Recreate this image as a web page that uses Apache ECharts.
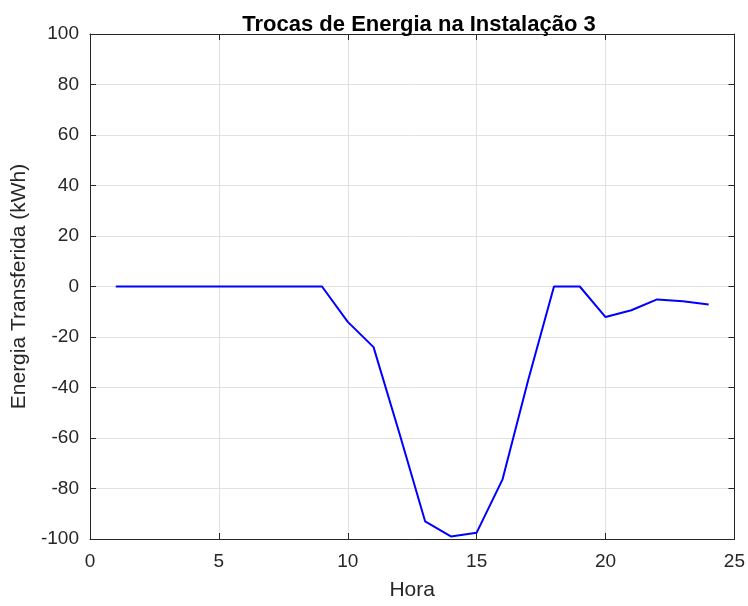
<!DOCTYPE html>
<html>
<head>
<meta charset="utf-8">
<script src="https://cdn.jsdelivr.net/npm/echarts@6/dist/echarts.min.js"></script>
<style>
  html, body { margin: 0; padding: 0; background: #fff; }
  #chart { width: 748px; height: 606px; }
</style>
</head>
<body>
<div id="chart"></div>
<script>
// hourly energy exchange
const hours = [1, 2, 3, 4, 5, 6, 7, 8, 9, 10, 11, 12, 13, 14, 15, 16, 17, 18, 19, 20, 21, 22, 23, 24];
const energy = [0, 0, 0, 0, 0, 0, 0, 0, 0, -14, -24, -58, -93, -99, -97.5, -76.5, -37, 0, 0, -12.1, -9.4, -5.1, -5.8, -7.1];

const font = 'Liberation Sans, Arial, sans-serif';
const txt = '#262626';
const axisCol = '#262626';
const gridCol = '#e1e1e1';

function getOption() {
    const seriesData = hours.map((h, i) => [h, energy[i]]);
    const sideAxis = {
        axisLine: {show: true, onZero: false, lineStyle: {color: axisCol}},
        axisTick: {show: true, inside: true, length: 6, lineStyle: {color: axisCol}},
        axisLabel: {show: false},
        splitLine: {show: false},
    };
    return {
        backgroundColor: '#fff',
        animation: false,
        title: {
            text: 'Trocas de Energia na Instalação 3',
            left: 414, top: 9, textAlign: 'center',
            textStyle: {fontFamily: font, fontSize: 22, fontWeight: 'bold', color: '#000'},
        },
        grid: {left: 90, right: 11, top: 34, bottom: 64, containLabel: false},
        xAxis: [
            {
                type: 'value', min: 0, max: 25, interval: 5, position: 'bottom',
                name: 'Hora', nameLocation: 'middle', nameGap: 41,
                nameTextStyle: {fontFamily: font, fontSize: 21, color: txt},
                axisLine: {show: true, onZero: false, lineStyle: {color: axisCol}},
                axisTick: {show: true, inside: true, length: 6, lineStyle: {color: axisCol}},
                axisLabel: {fontFamily: font, fontSize: 19, color: txt, margin: 13},
                splitLine: {show: true, lineStyle: {color: gridCol, width: 1}},
            },
            Object.assign({type: 'value', min: 0, max: 25, interval: 5, position: 'top'}, sideAxis),
        ],
        yAxis: [
            {
                type: 'value', min: -100, max: 100, interval: 20, position: 'left',
                name: 'Energia Transferida (kWh)', nameLocation: 'middle', nameGap: 56,
                nameTextStyle: {fontFamily: font, fontSize: 21, color: txt},
                axisLine: {show: true, onZero: false, lineStyle: {color: axisCol}},
                axisTick: {show: true, inside: true, length: 6, lineStyle: {color: axisCol}},
                axisLabel: {fontFamily: font, fontSize: 19, color: txt, margin: 11},
                splitLine: {show: true, lineStyle: {color: gridCol, width: 1}},
            },
            Object.assign({type: 'value', min: -100, max: 100, interval: 20, position: 'right'}, sideAxis),
        ],
        series: [
            {
                type: 'line',
                data: seriesData,
                showSymbol: false,
                lineStyle: {color: '#0000ff', width: 2},
                itemStyle: {color: '#0000ff'},
            },
        ],
    };
}

const chart = echarts.init(document.getElementById('chart'));
chart.setOption(getOption());
</script>
</body>
</html>
